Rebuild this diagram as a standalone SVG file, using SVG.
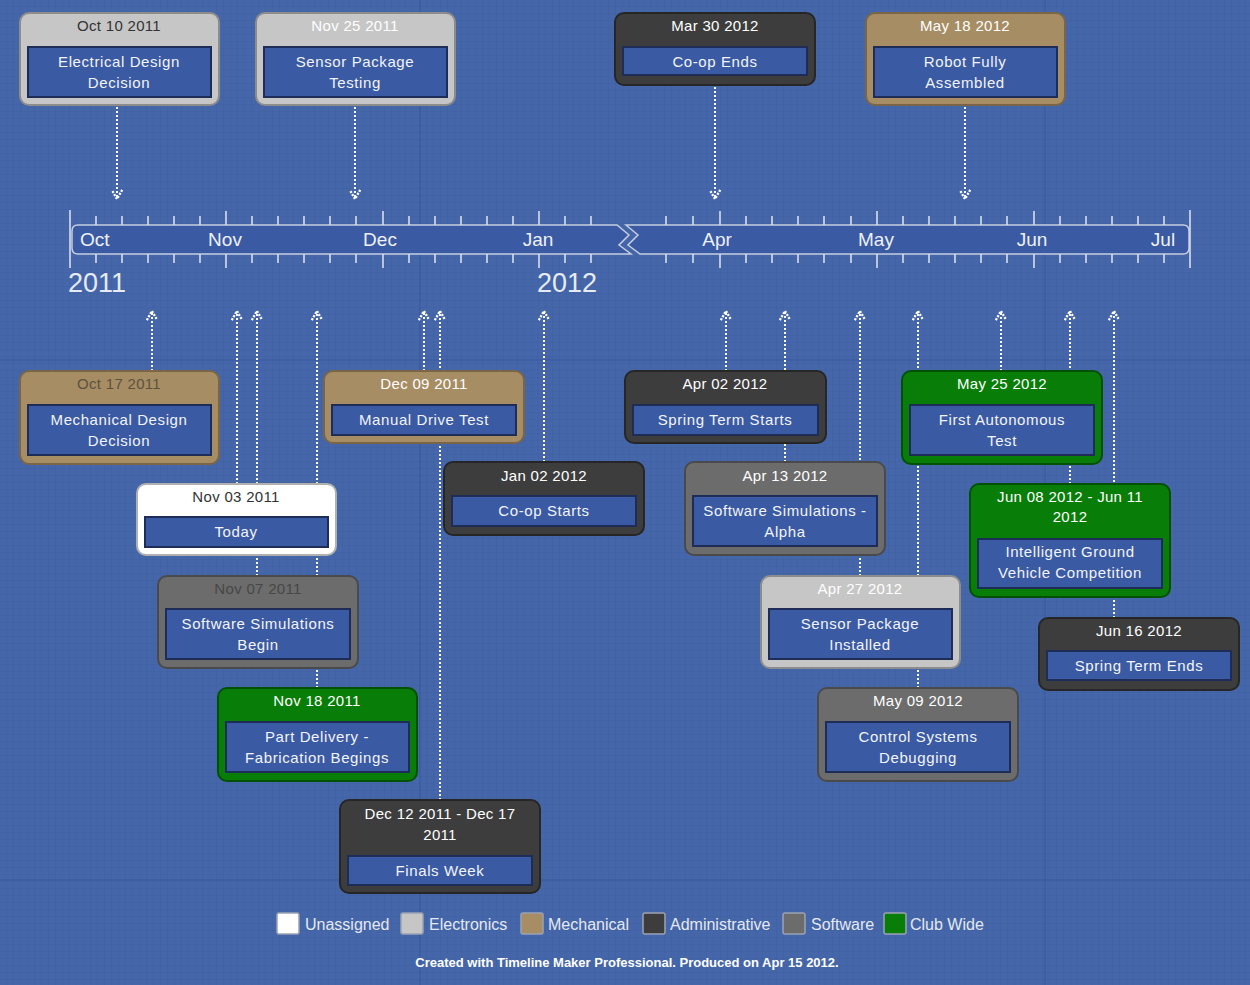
<svg xmlns="http://www.w3.org/2000/svg" width="1250" height="985" viewBox="0 0 1250 985">
<defs>
<pattern id="grid" width="7" height="7" patternUnits="userSpaceOnUse">
<path d="M7,0 V7 M0,7 H7" stroke="#35559a" stroke-width="0.8" opacity="0.55" fill="none"/>
</pattern>
<marker id="ah" viewBox="0 0 10 10" refX="8" refY="5" markerWidth="13" markerHeight="13" markerUnits="userSpaceOnUse" orient="auto">
<path d="M1,1 L8,5 L1,9" fill="none" stroke="#ffffff" stroke-width="1.8" stroke-dasharray="1.6 1.1"/>
</marker>
<style>
text{font-family:"Liberation Sans",Arial,sans-serif;}
.box{stroke-width:2;}
.un{fill:#ffffff;stroke:#b0b0b0;}
.el{fill:#c6c6c6;stroke:#8c8c8c;}
.me{fill:#a68d64;stroke:#7a6646;}
.ad{fill:#3d3d3d;stroke:#262626;}
.sw{fill:#6c6c6c;stroke:#4a4a4a;}
.cw{fill:#087d08;stroke:#045004;}
.inner{fill:#3a5aa3;stroke:#1d2d58;stroke-width:2;}
.date{font-size:15px;text-anchor:middle;letter-spacing:0.3px;}
.dl{fill:#ffffff;}
.dd{fill:#333333;}
.dm{fill:#5e5140;}
.dg{fill:#474747;}
.lbl{font-size:15px;fill:#f2f4f8;text-anchor:middle;letter-spacing:0.6px;}
.conn{stroke:#ffffff;stroke-width:2;stroke-dasharray:2 2;fill:none;}
.tick{stroke:#d7deea;stroke-width:1.6;}
.month{font-size:19px;fill:#eef1f7;}
.year{font-size:27px;fill:#e6ebf4;}
.leg{font-size:16px;fill:#e4e8f0;}
.sq{stroke:#9aa2b2;stroke-width:1.5;}
</style>
</defs>
<rect x="0" y="0" width="1250" height="985" fill="#4566a9"/>
<rect x="0" y="0" width="1250" height="985" fill="url(#grid)"/>
<g stroke="#33539a" stroke-width="1" opacity="0.6">
<line x1="0" y1="360" x2="1250" y2="360"/>
<line x1="0" y1="880" x2="1250" y2="880"/>
<line x1="420" y1="0" x2="420" y2="985"/>
<line x1="1045" y1="0" x2="1045" y2="985"/>
</g>

<g id="axis">
<path d="M78,225 H617 L629,235 L619,245 L631,254 H78 Q72,254 72,248 V231 Q72,225 78,225 Z" fill="#3a5aa3" stroke="#c5cee0" stroke-width="1.5"/>
<path d="M626,225 H1183 Q1189,225 1189,231 V248 Q1189,254 1183,254 H640 L628,245 L638,235 Z" fill="#3a5aa3" stroke="#c5cee0" stroke-width="1.5"/>
<line class="tick" x1="70" y1="210" x2="70" y2="268"/>
<line class="tick" x1="1190" y1="210" x2="1190" y2="268"/>
<g class="tick">
<path d="M96,216V225M122,216V225M148,216V225M174,216V225M200,216V225M226,211V225M252,216V225M278,216V225M304,216V225M330,216V225M356,216V225M383,211V225M409,216V225M435,216V225M461,216V225M487,216V225M513,216V225M539,211V225M565,216V225M591,216V225"/>
<path d="M96,254V263M122,254V263M148,254V263M174,254V263M200,254V263M226,254V268M252,254V263M278,254V263M304,254V263M330,254V263M356,254V263M383,254V268M409,254V263M435,254V263M461,254V263M487,254V263M513,254V263M539,254V268M565,254V263M591,254V263"/>
<path d="M666,216V225M693,216V225M720,211V225M746,216V225M772,216V225M798,216V225M824,216V225M851,216V225M877,211V225M903,216V225M929,216V225M955,216V225M981,216V225M1007,216V225M1034,211V225M1060,216V225M1086,216V225M1112,216V225M1138,216V225M1164,216V225"/>
<path d="M666,254V263M693,254V263M720,254V268M746,254V263M772,254V263M798,254V263M824,254V263M851,254V263M877,254V268M903,254V263M929,254V263M955,254V263M981,254V263M1007,254V263M1034,254V268M1060,254V263M1086,254V263M1112,254V263M1138,254V263M1164,254V263"/>
</g>
<text class="month" x="80" y="246">Oct</text>
<text class="month" x="225" y="246" text-anchor="middle">Nov</text>
<text class="month" x="380" y="246" text-anchor="middle">Dec</text>
<text class="month" x="538" y="246" text-anchor="middle">Jan</text>
<text class="month" x="717" y="246" text-anchor="middle">Apr</text>
<text class="month" x="876" y="246" text-anchor="middle">May</text>
<text class="month" x="1032" y="246" text-anchor="middle">Jun</text>
<text class="month" x="1163" y="246" text-anchor="middle">Jul</text>
<text class="year" x="68" y="292">2011</text>
<text class="year" x="537" y="292">2012</text>
</g>

<g id="connectors">
<line class="conn" x1="117" y1="107" x2="117" y2="199" marker-end="url(#ah)"/>
<line class="conn" x1="355" y1="107" x2="355" y2="199" marker-end="url(#ah)"/>
<line class="conn" x1="715" y1="87" x2="715" y2="199" marker-end="url(#ah)"/>
<line class="conn" x1="965" y1="107" x2="965" y2="199" marker-end="url(#ah)"/>
<line class="conn" x1="152" y1="371" x2="152" y2="311" marker-end="url(#ah)"/>
<line class="conn" x1="237" y1="484" x2="237" y2="311" marker-end="url(#ah)"/>
<line class="conn" x1="257" y1="576" x2="257" y2="311" marker-end="url(#ah)"/>
<line class="conn" x1="317" y1="688" x2="317" y2="311" marker-end="url(#ah)"/>
<line class="conn" x1="424" y1="371" x2="424" y2="311" marker-end="url(#ah)"/>
<line class="conn" x1="440" y1="800" x2="440" y2="311" marker-end="url(#ah)"/>
<line class="conn" x1="544" y1="462" x2="544" y2="311" marker-end="url(#ah)"/>
<line class="conn" x1="726" y1="371" x2="726" y2="311" marker-end="url(#ah)"/>
<line class="conn" x1="785" y1="462" x2="785" y2="311" marker-end="url(#ah)"/>
<line class="conn" x1="860" y1="576" x2="860" y2="311" marker-end="url(#ah)"/>
<line class="conn" x1="918" y1="688" x2="918" y2="311" marker-end="url(#ah)"/>
<line class="conn" x1="1001" y1="371" x2="1001" y2="311" marker-end="url(#ah)"/>
<line class="conn" x1="1070" y1="484" x2="1070" y2="311" marker-end="url(#ah)"/>
<line class="conn" x1="1114" y1="618" x2="1114" y2="311" marker-end="url(#ah)"/>
</g>

<g id="n-oct10">
<rect class="box el" x="20" y="13" width="199" height="92" rx="9"/>
<text class="date dd" x="119" y="31">Oct 10 2011</text>
<rect class="inner" x="28" y="47" width="183" height="50"/>
<text class="lbl" x="119" y="67">Electrical Design</text>
<text class="lbl" x="119" y="88">Decision</text>
</g>
<g id="n-nov25">
<rect class="box el" x="256" y="13" width="199" height="92" rx="9"/>
<text class="date dl" x="355" y="31">Nov 25 2011</text>
<rect class="inner" x="264" y="47" width="183" height="50"/>
<text class="lbl" x="355" y="67">Sensor Package</text>
<text class="lbl" x="355" y="88">Testing</text>
</g>
<g id="n-mar30">
<rect class="box ad" x="615" y="13" width="200" height="72" rx="9"/>
<text class="date dl" x="715" y="31">Mar 30 2012</text>
<rect class="inner" x="623" y="47" width="184" height="28"/>
<text class="lbl" x="715" y="67">Co-op Ends</text>
</g>
<g id="n-may18">
<rect class="box me" x="866" y="13" width="199" height="92" rx="9"/>
<text class="date dl" x="965" y="31">May 18 2012</text>
<rect class="inner" x="874" y="47" width="183" height="50"/>
<text class="lbl" x="965" y="67">Robot Fully</text>
<text class="lbl" x="965" y="88">Assembled</text>
</g>
<g id="n-oct17">
<rect class="box me" x="20" y="371" width="199" height="93" rx="9"/>
<text class="date dm" x="119" y="389">Oct 17 2011</text>
<rect class="inner" x="28" y="405" width="183" height="50"/>
<text class="lbl" x="119" y="425">Mechanical Design</text>
<text class="lbl" x="119" y="446">Decision</text>
</g>
<g id="n-nov03">
<rect class="box un" x="137" y="484" width="199" height="71" rx="9"/>
<text class="date dd" x="236" y="502">Nov 03 2011</text>
<rect class="inner" x="145" y="517" width="183" height="30"/>
<text class="lbl" x="236" y="537">Today</text>
</g>
<g id="n-nov07">
<rect class="box sw" x="158" y="576" width="200" height="92" rx="9"/>
<text class="date dg" x="258" y="594">Nov 07 2011</text>
<rect class="inner" x="166" y="609" width="184" height="50"/>
<text class="lbl" x="258" y="629">Software Simulations</text>
<text class="lbl" x="258" y="650">Begin</text>
</g>
<g id="n-nov18">
<rect class="box cw" x="218" y="688" width="199" height="93" rx="9"/>
<text class="date dl" x="317" y="706">Nov 18 2011</text>
<rect class="inner" x="226" y="722" width="183" height="50"/>
<text class="lbl" x="317" y="742">Part Delivery -</text>
<text class="lbl" x="317" y="763">Fabrication Begings</text>
</g>
<g id="n-dec09">
<rect class="box me" x="324" y="371" width="200" height="72" rx="9"/>
<text class="date dl" x="424" y="389">Dec 09 2011</text>
<rect class="inner" x="332" y="405" width="184" height="30"/>
<text class="lbl" x="424" y="425">Manual Drive Test</text>
</g>
<g id="n-dec12">
<rect class="box ad" x="340" y="800" width="200" height="93" rx="9"/>
<text class="date dl" x="440" y="819">Dec 12 2011 - Dec 17</text>
<text class="date dl" x="440" y="840">2011</text>
<rect class="inner" x="348" y="856" width="184" height="29"/>
<text class="lbl" x="440" y="876">Finals Week</text>
</g>
<g id="n-jan02">
<rect class="box ad" x="444" y="462" width="200" height="73" rx="9"/>
<text class="date dl" x="544" y="481">Jan 02 2012</text>
<rect class="inner" x="452" y="496" width="184" height="30"/>
<text class="lbl" x="544" y="516">Co-op Starts</text>
</g>
<g id="n-apr02">
<rect class="box ad" x="625" y="371" width="201" height="72" rx="9"/>
<text class="date dl" x="725" y="389">Apr 02 2012</text>
<rect class="inner" x="633" y="405" width="185" height="30"/>
<text class="lbl" x="725" y="425">Spring Term Starts</text>
</g>
<g id="n-apr13">
<rect class="box sw" x="685" y="462" width="200" height="93" rx="9"/>
<text class="date dl" x="785" y="481">Apr 13 2012</text>
<rect class="inner" x="693" y="496" width="184" height="50"/>
<text class="lbl" x="785" y="516">Software Simulations -</text>
<text class="lbl" x="785" y="537">Alpha</text>
</g>
<g id="n-apr27">
<rect class="box el" x="761" y="576" width="199" height="92" rx="9"/>
<text class="date dl" x="860" y="594">Apr 27 2012</text>
<rect class="inner" x="769" y="609" width="183" height="50"/>
<text class="lbl" x="860" y="629">Sensor Package</text>
<text class="lbl" x="860" y="650">Installed</text>
</g>
<g id="n-may09">
<rect class="box sw" x="818" y="688" width="200" height="93" rx="9"/>
<text class="date dl" x="918" y="706">May 09 2012</text>
<rect class="inner" x="826" y="722" width="184" height="50"/>
<text class="lbl" x="918" y="742">Control Systems</text>
<text class="lbl" x="918" y="763">Debugging</text>
</g>
<g id="n-may25">
<rect class="box cw" x="902" y="371" width="200" height="93" rx="9"/>
<text class="date dl" x="1002" y="389">May 25 2012</text>
<rect class="inner" x="910" y="405" width="184" height="50"/>
<text class="lbl" x="1002" y="425">First Autonomous</text>
<text class="lbl" x="1002" y="446">Test</text>
</g>
<g id="n-jun08">
<rect class="box cw" x="970" y="484" width="200" height="113" rx="9"/>
<text class="date dl" x="1070" y="502">Jun 08 2012 - Jun 11</text>
<text class="date dl" x="1070" y="522">2012</text>
<rect class="inner" x="978" y="539" width="184" height="49"/>
<text class="lbl" x="1070" y="557">Intelligent Ground</text>
<text class="lbl" x="1070" y="578">Vehicle Competition</text>
</g>
<g id="n-jun16">
<rect class="box ad" x="1039" y="618" width="200" height="72" rx="9"/>
<text class="date dl" x="1139" y="636">Jun 16 2012</text>
<rect class="inner" x="1047" y="651" width="184" height="29"/>
<text class="lbl" x="1139" y="671">Spring Term Ends</text>
</g>

<g id="legend">
<rect class="sq" x="277" y="913" width="22" height="21" rx="2" fill="#ffffff"/>
<text class="leg" x="305" y="930">Unassigned</text>
<rect class="sq" x="401" y="913" width="22" height="21" rx="2" fill="#c6c6c6"/>
<text class="leg" x="429" y="930">Electronics</text>
<rect class="sq" x="521" y="913" width="22" height="21" rx="2" fill="#a68d64"/>
<text class="leg" x="548" y="930">Mechanical</text>
<rect class="sq" x="643" y="913" width="22" height="21" rx="2" fill="#3d3d3d"/>
<text class="leg" x="670" y="930">Administrative</text>
<rect class="sq" x="783" y="913" width="22" height="21" rx="2" fill="#6c6c6c"/>
<text class="leg" x="811" y="930">Software</text>
<rect class="sq" x="884" y="913" width="22" height="21" rx="2" fill="#087d08"/>
<text class="leg" x="910" y="930">Club Wide</text>
</g>
<text x="627" y="967" text-anchor="middle" font-size="13" font-weight="bold" fill="#ffffff">Created with Timeline Maker Professional. Produced on Apr 15 2012.</text>
</svg>
